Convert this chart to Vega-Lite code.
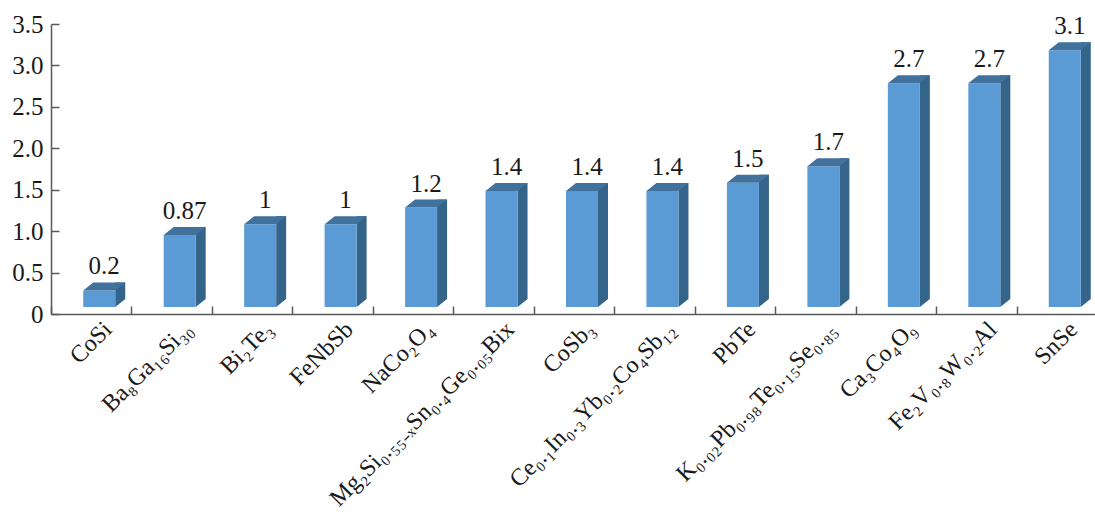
{
  "$schema": "https://vega.github.io/schema/vega-lite/v6.json",
  "autosize": "none",
  "padding": {"left": 51, "top": 24, "right": 0, "bottom": 203},
  "width": 1046,
  "height": 290,
  "background": "white",
  "config": {"view": {"stroke": null}},
  "data": {
    "values": [
      {"material": "CoSi", "value": 0.2, "label": "0.2"},
      {"material": "Ba₈Ga₁₆Si₃₀", "value": 0.87, "label": "0.87"},
      {"material": "Bi₂Te₃", "value": 1, "label": "1"},
      {"material": "FeNbSb", "value": 1, "label": "1"},
      {"material": "NaCo₂O₄", "value": 1.2, "label": "1.2"},
      {"material": "Mg₂Si₀.₅₅₋ₓSn₀.₄Ge₀.₀₅Bix", "value": 1.4, "label": "1.4"},
      {"material": "CoSb₃", "value": 1.4, "label": "1.4"},
      {"material": "Ce₀.₁In₀.₃Yb₀.₂Co₄Sb₁₂", "value": 1.4, "label": "1.4"},
      {"material": "PbTe", "value": 1.5, "label": "1.5"},
      {"material": "K₀.₀₂Pb₀.₉₈Te₀.₁₅Se₀.₈₅", "value": 1.7, "label": "1.7"},
      {"material": "Ca₃Co₄O₉", "value": 2.7, "label": "2.7"},
      {"material": "Fe₂V₀.₈W₀.₂Al", "value": 2.7, "label": "2.7"},
      {"material": "SnSe", "value": 3.1, "label": "3.1"}
    ]
  },
  "encoding": {
    "x": {
      "field": "material",
      "type": "nominal",
      "sort": null,
      "scale": {"paddingInner": 0, "paddingOuter": 0},
      "axis": {
        "title": null,
        "domainColor": "#595959",
        "domainWidth": 1.5,
        "tickColor": "#595959",
        "tickWidth": 1.5,
        "tickSize": -8,
        "tickBand": "extent",
        "labelAngle": -45,
        "labelAlign": "right",
        "labelBaseline": "top",
        "labelOffset": 8,
        "labelPadding": 11,
        "labelFont": "'Liberation Serif', 'Times New Roman', serif",
        "labelFontSize": 24,
        "labelColor": "#1a1a1a",
        "labelLimit": 500,
        "labelOverlap": false
      }
    },
    "y": {
      "field": "value",
      "type": "quantitative",
      "scale": {"domain": [0, 3.5], "nice": false},
      "axis": {
        "title": null,
        "grid": false,
        "values": [0, 0.5, 1, 1.5, 2, 2.5, 3, 3.5],
        "labelExpr": "datum.value == 0 ? '0' : format(datum.value, '.1f')",
        "domainColor": "#595959",
        "domainWidth": 1.5,
        "tickColor": "#595959",
        "tickWidth": 1.5,
        "tickSize": -8,
        "labelPadding": 16,
        "labelFont": "'Liberation Serif', 'Times New Roman', serif",
        "labelFontSize": 25,
        "labelColor": "#1a1a1a"
      }
    }
  },
  "layer": [
    {
      "mark": {"type": "bar", "width": 10, "xOffset": 29, "yOffset": -15, "y2Offset": -15, "color": "#35648A"}
    },
    {
      "mark": {"type": "point", "filled": true, "opacity": 1, "size": 4, "shape": "M 16 0 L 26 -8 L 16 -8 Z", "xOffset": 8, "yOffset": -7, "color": "#35648A"},
      "encoding": {"y": {"datum": 0}}
    },
    {
      "mark": {"type": "bar", "width": 32, "xOffset": 8, "yOffset": -7, "y2Offset": -7, "color": "#5B9BD5"}
    },
    {
      "mark": {"type": "point", "filled": true, "opacity": 1, "size": 4, "shape": "M -16 0 L -6 -8 L 26 -8 L 16 0 Z", "xOffset": 8, "yOffset": -7, "color": "#41719C"}
    },
    {
      "mark": {"type": "text", "xOffset": 13, "yOffset": -23, "baseline": "alphabetic", "align": "center", "font": "'Liberation Serif', 'Times New Roman', serif", "fontSize": 25, "color": "#1a1a1a"},
      "encoding": {"text": {"field": "label", "type": "nominal"}}
    }
  ]
}
